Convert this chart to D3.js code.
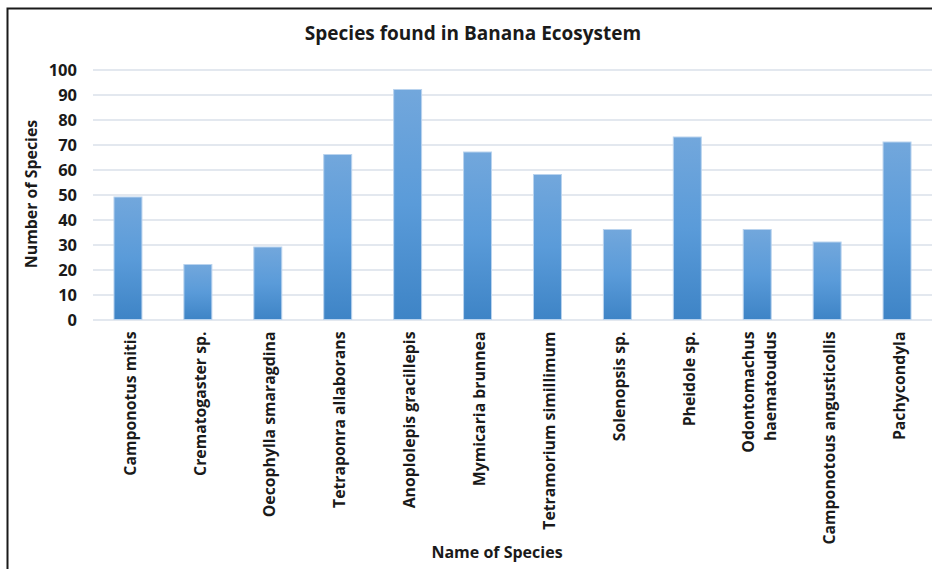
<!DOCTYPE html>
<html>
<head>
<meta charset="utf-8">
<script src="https://cdn.jsdelivr.net/npm/d3@7"></script>
<style>
  html, body { margin: 0; padding: 0; background: #fff; }
  svg { display: block; }
  text { font-family: "Open Sans", Lato, sans-serif; font-weight: 700; fill: #1a1a1a; }
</style>
</head>
<body>
<svg id="chart" width="932" height="569"></svg>
<script>
// Ant species counts recorded in the banana ecosystem
const species = [
  "Camponotus mitis",
  "Crematogaster sp.",
  "Oecophylla smaragdina",
  "Tetraponra allaborans",
  "Anoplolepis gracillepis",
  "Mymicaria brunnea",
  "Tetramorium simillimum",
  "Solenopsis sp.",
  "Pheidole sp.",
  "Odontomachus haematoudus",
  "Camponotous angusticollis",
  "Pachycondyla"
];
const counts = [49, 22, 29, 66, 92, 67, 58, 36, 73, 36, 31, 71];
const yTicks = [0, 10, 20, 30, 40, 50, 60, 70, 80, 90, 100];
// Labels that wrap onto two lines
const labelLines = {
  "Odontomachus haematoudus": ["Odontomachus", "haematoudus"]
};

const W = 932, H = 569;
const margin = { top: 69.5, right: 0, bottom: 249.5, left: 93 };
const svg = d3.select("#chart");

// Outer frame (left and top edges)
svg.append("path")
  .attr("d", `M7.5,${H} V8.5 H${W}`)
  .attr("fill", "none")
  .attr("stroke", "#1a1a1a")
  .attr("stroke-width", 2);

const x = d3.scaleBand()
  .domain(species)
  .range([margin.left, W - margin.right])
  .paddingInner(0.6)
  .paddingOuter(0.3);

const y = d3.scaleLinear()
  .domain([0, 100])
  .range([H - margin.bottom, margin.top]);

// Bar gradient
const defs = svg.append("defs");
const grad = defs.append("linearGradient")
  .attr("id", "barGrad")
  .attr("x1", 0).attr("y1", 0).attr("x2", 0).attr("y2", 1);
grad.append("stop").attr("offset", "0%").attr("stop-color", "#72a7dc");
grad.append("stop").attr("offset", "50%").attr("stop-color", "#5a9bd9");
grad.append("stop").attr("offset", "100%").attr("stop-color", "#3e84c6");

// Gridlines
const grid = svg.append("g")
  .attr("transform", `translate(${margin.left},0)`)
  .call(d3.axisLeft(y)
    .tickValues(yTicks)
    .tickSize(-(W - margin.left - margin.right))
    .tickFormat(""));
grid.select(".domain").remove();
grid.selectAll(".tick line")
  .attr("stroke", "#e3e8ef")
  .attr("stroke-width", 2);

// Y axis labels
const yAxis = svg.append("g")
  .attr("transform", `translate(${margin.left - 16},0)`)
  .call(d3.axisLeft(y).tickValues(yTicks).tickSize(0).tickPadding(0));
yAxis.select(".domain").remove();
yAxis.selectAll("text")
  .style("font-size", "16.5px")
  .attr("fill", "#1a1a1a")
  .attr("dy", "0.36em");

// Bars
svg.append("g")
  .selectAll("rect")
  .data(species.map((s, i) => ({ s, v: counts[i] })))
  .join("rect")
  .attr("x", d => x(d.s))
  .attr("y", d => y(d.v))
  .attr("width", x.bandwidth())
  .attr("height", d => y(0) - y(d.v))
  .attr("fill", "url(#barGrad)")
  .attr("stroke", "#b9d3ee")
  .attr("stroke-width", 1);

// X axis category labels (rotated)
const lab = svg.append("g").selectAll("text")
  .data(species)
  .join("text")
  .attr("transform", d => `translate(${x(d) + x.bandwidth() / 2 + 2},${y(0) + 12}) rotate(-90)`)
  .attr("text-anchor", "end")
  .style("font-size", "15.8px");
lab.each(function (d) {
  const lines = labelLines[d] || [d];
  const t = d3.select(this);
  const lh = 22;
  const off = -(lines.length - 1) * lh / 2;
  lines.forEach((ln, k) => {
    t.append("tspan")
      .attr("x", 0)
      .attr("y", off + k * lh)
      .attr("dy", "0.36em")
      .text(ln);
  });
});

// Title
svg.append("text")
  .attr("x", 473)
  .attr("y", 33)
  .attr("dy", "0.36em")
  .attr("text-anchor", "middle")
  .style("font-size", "19px")
  .text("Species found in Banana Ecosystem");

// Axis titles
svg.append("text")
  .attr("transform", `translate(31,194) rotate(-90)`)
  .attr("dy", "0.36em")
  .attr("text-anchor", "middle")
  .style("font-size", "15.9px")
  .text("Number of Species");

svg.append("text")
  .attr("x", 497)
  .attr("y", 552)
  .attr("dy", "0.36em")
  .attr("text-anchor", "middle")
  .style("font-size", "16px")
  .text("Name of Species");
</script>
</body>
</html>
